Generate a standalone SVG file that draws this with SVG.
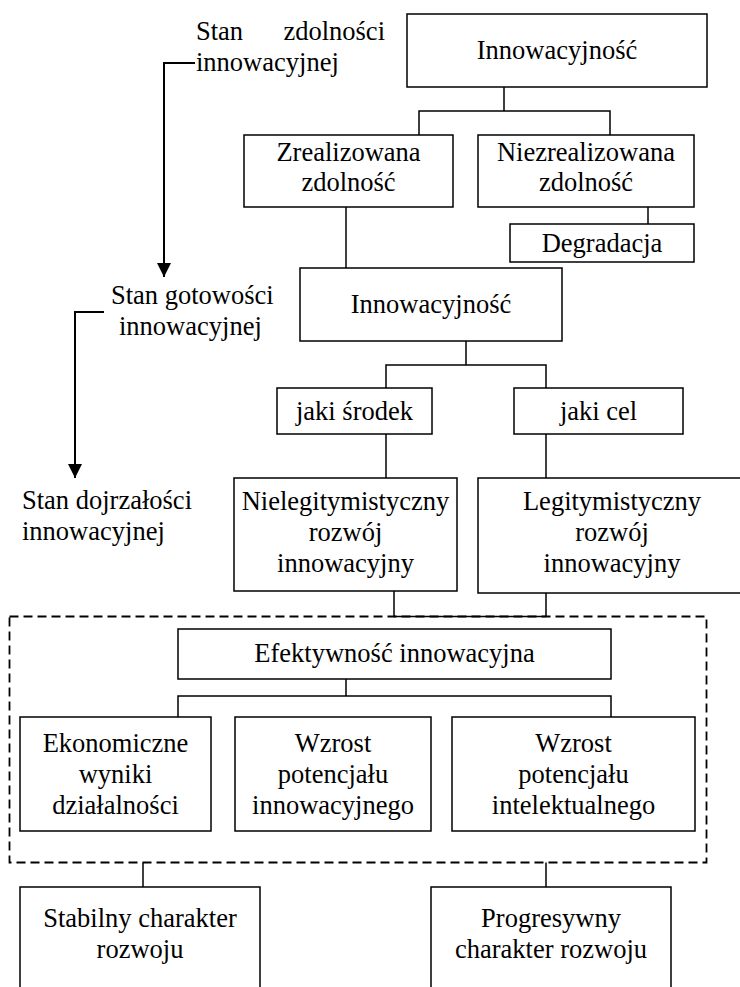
<svg xmlns="http://www.w3.org/2000/svg" width="740" height="987" viewBox="0 0 740 987">
<style>
.b{fill:#fff;stroke:#000;stroke-width:1.5}
.t{font-family:'Liberation Serif','Times New Roman',Tinos,'DejaVu Serif','Noto Serif',serif;font-size:26.5px;fill:#000;text-anchor:middle}
.l{font-family:'Liberation Serif','Times New Roman',Tinos,'DejaVu Serif','Noto Serif',serif;font-size:26.5px;fill:#000}
.c{fill:none;stroke:#000;stroke-width:1.5}
.a{fill:none;stroke:#000;stroke-width:2}
.d{fill:none;stroke:#000;stroke-width:1.8;stroke-dasharray:9 5}
</style>
<defs>
<marker id="ah" viewBox="0 0 10 10" refX="10" refY="5" markerUnits="userSpaceOnUse" markerWidth="15" markerHeight="14" orient="auto">
<path d="M0,0 L10,5 L0,10 z" fill="#000"/>
</marker>
</defs>
<g id="connectors">
<path class="c" d="M504,87 V111 M419,135 V111 H610 V135"/>
<path class="c" d="M346,207 V268"/>
<path class="c" d="M648,207 V224"/>
<path class="c" d="M466,341 V365 M386,388 V365 H546 V388"/>
<path class="c" d="M386,434 V478"/>
<path class="c" d="M546,434 V478"/>
<path class="c" d="M394,591 V616.5 H546 M546,593 V616.5"/>
<path class="c" d="M346,679 V696 M178,717 V696 H611 V717"/>
<path class="c" d="M143,862.5 V887"/>
<path class="c" d="M546,862.5 V887"/>
<path class="a" d="M195,63 H164 V277" marker-end="url(#ah)"/>
<path class="a" d="M104,312 H75 V478" marker-end="url(#ah)"/>
</g>
<g id="label-zdolnosc">
<text class="l"><tspan x="196" y="40">Stan</tspan><tspan x="385" y="40" text-anchor="end">zdolności</tspan></text>
<text class="l" x="196" y="71">innowacyjnej</text>
</g>
<g id="label-gotowosc">
<text class="l" x="111" y="304">Stan gotowości</text>
<text class="l" x="119" y="335">innowacyjnej</text>
</g>
<g id="label-dojrzalosc">
<text class="l" x="22" y="509">Stan dojrzałości</text>
<text class="l" x="22" y="540">innowacyjnej</text>
</g>
<g id="n-innowacyjnosc1">
<rect class="b" x="407" y="14" width="300" height="73"/>
<text class="t" x="557" y="59">Innowacyjność</text>
</g>
<g id="n-zrealizowana">
<rect class="b" x="244" y="135" width="209" height="72"/>
<text class="t" x="348.5" y="161">Zrealizowana</text>
<text class="t" x="348.5" y="191">zdolność</text>
</g>
<g id="n-niezrealizowana">
<rect class="b" x="478" y="135" width="216" height="72"/>
<text class="t" x="586" y="161">Niezrealizowana</text>
<text class="t" x="586" y="191">zdolność</text>
</g>
<g id="n-degradacja">
<rect class="b" x="510" y="224" width="184" height="38"/>
<text class="t" x="602" y="252">Degradacja</text>
</g>
<g id="n-innowacyjnosc2">
<rect class="b" x="300" y="268" width="262" height="73"/>
<text class="t" x="431" y="313">Innowacyjność</text>
</g>
<g id="n-srodek">
<rect class="b" x="277" y="388" width="155" height="46"/>
<text class="t" x="354.5" y="420">jaki środek</text>
</g>
<g id="n-cel">
<rect class="b" x="514" y="388" width="169" height="46"/>
<text class="t" x="598.5" y="420">jaki cel</text>
</g>
<g id="n-nielegit">
<rect class="b" x="234" y="478" width="223" height="113"/>
<text class="t" x="345.5" y="510">Nielegitymistyczny</text>
<text class="t" x="345.5" y="541">rozwój</text>
<text class="t" x="345.5" y="572">innowacyjny</text>
</g>
<g id="n-legit">
<rect class="b" x="478" y="478" width="268" height="115"/>
<text class="t" x="612" y="510">Legitymistyczny</text>
<text class="t" x="612" y="541">rozwój</text>
<text class="t" x="612" y="572">innowacyjny</text>
</g>
<g id="group-efektywnosc">
<rect class="d" x="9.5" y="616.5" width="697" height="246"/>
</g>
<g id="n-efektywnosc">
<rect class="b" x="178" y="629" width="433" height="50"/>
<text class="t" x="394.5" y="662">Efektywność innowacyjna</text>
</g>
<g id="n-ekonomiczne">
<rect class="b" x="20" y="717" width="191" height="114"/>
<text class="t" x="115.5" y="752">Ekonomiczne</text>
<text class="t" x="115.5" y="783">wyniki</text>
<text class="t" x="115.5" y="814">działalności</text>
</g>
<g id="n-wzrost-innowacyjny">
<rect class="b" x="235" y="717" width="196" height="114"/>
<text class="t" x="333" y="752">Wzrost</text>
<text class="t" x="333" y="783">potencjału</text>
<text class="t" x="333" y="814">innowacyjnego</text>
</g>
<g id="n-wzrost-intelektualny">
<rect class="b" x="452" y="717" width="243" height="114"/>
<text class="t" x="573.5" y="752">Wzrost</text>
<text class="t" x="573.5" y="783">potencjału</text>
<text class="t" x="573.5" y="814">intelektualnego</text>
</g>
<g id="n-stabilny">
<rect class="b" x="20" y="887" width="240" height="110"/>
<text class="t" x="140" y="927">Stabilny charakter</text>
<text class="t" x="140" y="958">rozwoju</text>
</g>
<g id="n-progresywny">
<rect class="b" x="431" y="887" width="240" height="110"/>
<text class="t" x="551" y="927">Progresywny</text>
<text class="t" x="551" y="958">charakter rozwoju</text>
</g>
</svg>
